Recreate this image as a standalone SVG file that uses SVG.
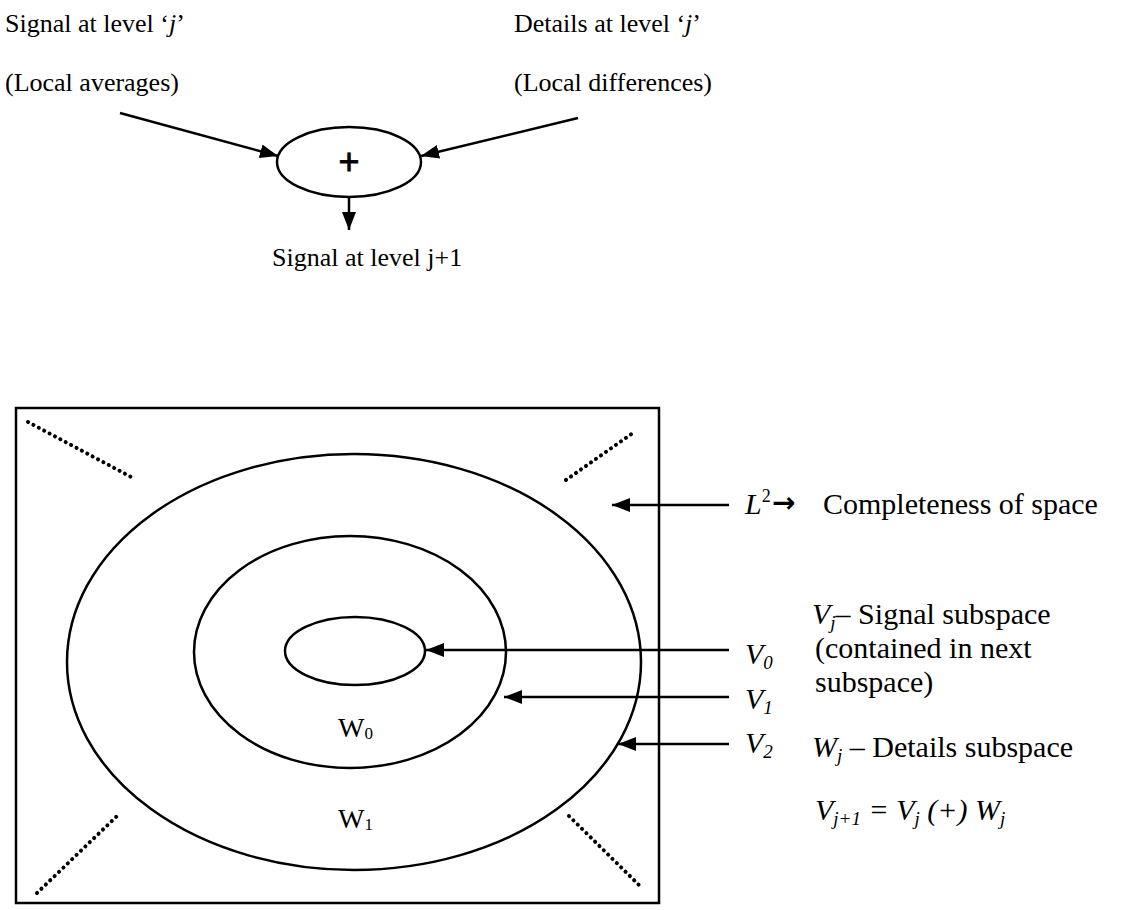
<svg xmlns="http://www.w3.org/2000/svg" width="1139" height="910" viewBox="0 0 1139 910">
<style>
.t{font-family:"Liberation Serif","Times New Roman",serif;font-size:26px;fill:#000}
.r{font-family:"Liberation Serif","Times New Roman",serif;font-size:30px;fill:#000}
.w{font-family:"Liberation Serif","Times New Roman",serif;font-size:28px;fill:#000}
.i{font-style:italic}
.ln{stroke:#000;stroke-width:2.5;fill:none}
.el{stroke:#000;stroke-width:2.5;fill:none}
.dot{stroke:#000;stroke-width:4;stroke-dasharray:0.1 6;stroke-linecap:round;fill:none}
</style>
<defs>
<marker id="ah" markerUnits="userSpaceOnUse" markerWidth="20" markerHeight="16" refX="18" refY="7" orient="auto">
<path d="M0,0 L18,7 L0,14 Z" fill="#000"/>
</marker>
</defs>
<rect width="1139" height="910" fill="#fff"/>

<g id="top-labels">
<text class="t" x="5" y="32">Signal at level ‘<tspan class="i">j</tspan>’</text>
<text class="t" x="5" y="91">(Local averages)</text>
<text class="t" x="514" y="32">Details at level ‘<tspan class="i">j</tspan>’</text>
<text class="t" x="514" y="91">(Local differences)</text>
<text class="t" x="272" y="266">Signal at level j+1</text>
</g>

<g id="sum-node">
<ellipse class="el" cx="349" cy="162" rx="72" ry="35"/>
<text x="349" y="174" text-anchor="middle" font-family="Liberation Sans, Arial, sans-serif" font-size="36" stroke="#000" stroke-width="0.8">+</text>
</g>

<g id="space-box">
<rect x="16" y="408" width="643" height="495" fill="none" stroke="#000" stroke-width="2.5"/>
<path class="dot" d="M28,422 L133,478"/>
<path class="dot" d="M566,480 L633,433"/>
<path class="dot" d="M37,893 L117,816"/>
<path class="dot" d="M569,816 L640,886"/>
</g>

<g id="ellipse-V2">
<ellipse class="el" cx="354" cy="662" rx="287" ry="208"/>
<text class="w" x="338" y="828">W<tspan font-size="17" dy="2">1</tspan></text>
</g>
<g id="ellipse-V1">
<ellipse class="el" cx="350" cy="652" rx="156" ry="116"/>
<text class="w" x="338" y="737">W<tspan font-size="17" dy="2">0</tspan></text>
</g>
<g id="ellipse-V0">
<ellipse class="el" cx="355" cy="651" rx="70" ry="34"/>
</g>

<g id="right-labels">
<text class="r" x="745" y="514"><tspan class="i">L</tspan><tspan style="font-size:18px" dy="-12">2</tspan></text>
<text x="772" y="512" style="font-family:'DejaVu Sans',sans-serif;font-weight:bold;font-size:28px">→</text>
<text class="r" x="823" y="514">Completeness of space</text>
<text class="r" x="812" y="624"><tspan class="i">V</tspan><tspan class="i" font-size="19" dy="5">j</tspan><tspan dy="-5">– Signal subspace</tspan></text>
<text class="r" x="815" y="658">(contained in next</text>
<text class="r" x="815" y="692">subspace)</text>
<text class="r" x="812" y="757"><tspan class="i">W</tspan><tspan class="i" font-size="19" dy="5">j</tspan><tspan dy="-5"> – Details subspace</tspan></text>
<text class="r i" x="815" y="820">V<tspan font-size="19" dy="5">j+1</tspan><tspan dy="-5"> = V</tspan><tspan font-size="19" dy="5">j</tspan><tspan dy="-5"> (+) W</tspan><tspan font-size="19" dy="5">j</tspan></text>
<text class="r i" x="745" y="664">V<tspan font-size="19" dy="5">0</tspan></text>
<text class="r i" x="745" y="709">V<tspan font-size="19" dy="5">1</tspan></text>
<text class="r i" x="745" y="753">V<tspan font-size="19" dy="5">2</tspan></text>
</g>

<g id="connectors">
<path class="ln" d="M120,113 L278,156" marker-end="url(#ah)"/>
<path class="ln" d="M578,118 L421,156" marker-end="url(#ah)"/>
<path class="ln" d="M349,197 L349,230" marker-end="url(#ah)"/>
<path class="ln" d="M729,505 L612,505" marker-end="url(#ah)"/>
<path class="ln" d="M729,650 L426,650" marker-end="url(#ah)"/>
<path class="ln" d="M729,697 L504,697" marker-end="url(#ah)"/>
<path class="ln" d="M729,744 L618,744" marker-end="url(#ah)"/>
</g>
</svg>
